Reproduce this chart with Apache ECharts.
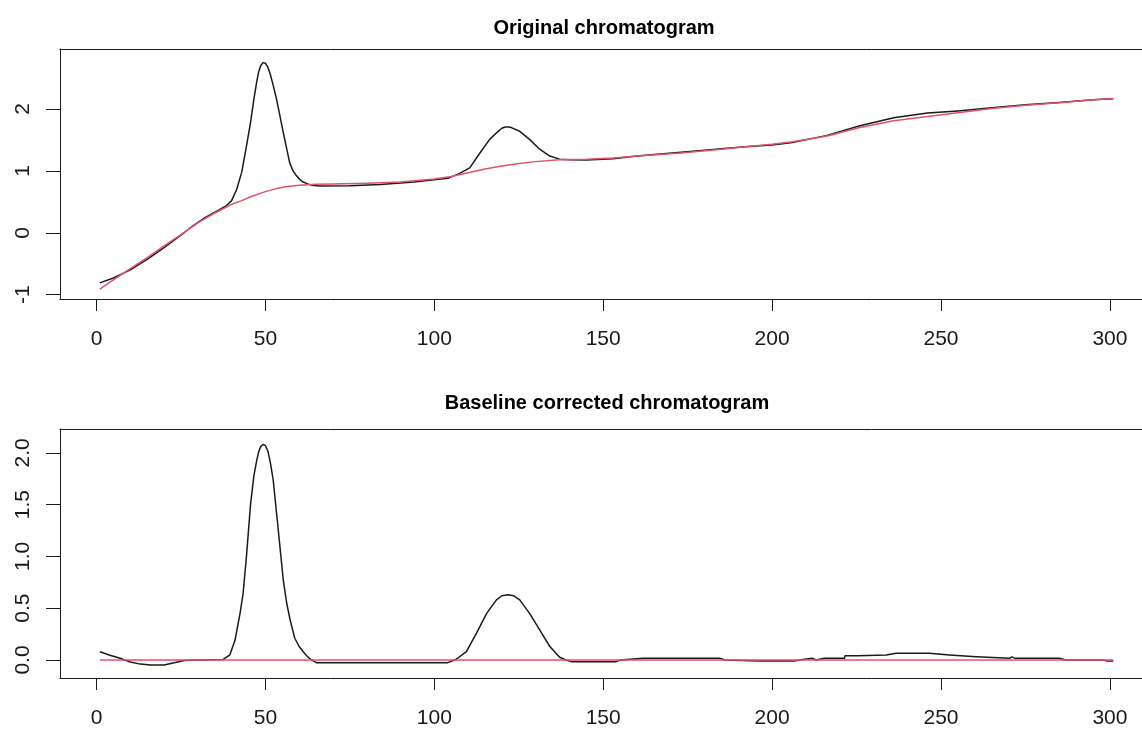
<!DOCTYPE html>
<html>
<head>
<meta charset="utf-8">
<script src="https://cdn.jsdelivr.net/npm/echarts@6/dist/echarts.min.js"></script>
<style>
html,body{margin:0;padding:0;background:#fff;}
#chart{width:1142px;height:729px;}
</style>
</head>
<body>
<div id="chart"></div>
<script>
// ---- data ----
const titles = ['Original chromatogram', 'Baseline corrected chromatogram'];
const xTicks = [0, 50, 100, 150, 200, 250, 300];
const yTicksTop = [-1, 0, 1, 2];
const yTicksBottom = [0, 0.5, 1, 1.5, 2];

// original chromatogram (black, top panel) [time, intensity]
const originalSignal = [
  [1,-0.81],[5,-0.73],[10,-0.60],[15,-0.43],[20,-0.24],[25,-0.04],[28,0.09],[32,0.24],
  [36,0.36],[38.5,0.44],[40,0.52],[41.5,0.70],[43,0.98],[44.4,1.40],[45.6,1.78],
  [46.6,2.16],[47.4,2.43],[48.0,2.60],[48.6,2.70],[49.3,2.75],[50.0,2.74],[50.7,2.68],
  [51.4,2.57],[52.0,2.45],[53.3,2.16],[55.3,1.62],[57.2,1.13],[58.2,1.00],[59.2,0.92],
  [60.2,0.86],[61.2,0.82],[62.5,0.79],[63.7,0.77],[66,0.755],[75,0.76],[84,0.78],
  [94,0.82],[104,0.88],[107.5,0.96],[110.5,1.05],[113.5,1.29],[116.4,1.51],[118.9,1.64],
  [120,1.69],[121,1.71],[122,1.71],[122.8,1.70],[125.3,1.64],[128.2,1.51],[131.2,1.35],
  [134.2,1.24],[137.1,1.19],[140,1.18],[145,1.175],[153,1.195],[160,1.24],[173,1.30],
  [185,1.36],[192,1.39],[200,1.42],[206,1.46],[216,1.57],[226,1.73],[236,1.86],
  [246,1.935],[255,1.97],[265,2.02],[275,2.07],[285,2.105],[295,2.15],[301,2.165]
];

// fitted baseline (red, top panel)
const baselineSignal = [
  [1,-0.91],[5,-0.76],[10,-0.58],[15,-0.40],[20,-0.21],[25,-0.03],[30,0.16],[35,0.32],
  [40,0.46],[43,0.52],[46,0.59],[50,0.665],[53,0.71],[56,0.745],[60,0.77],[65,0.785],
  [70,0.79],[80,0.80],[90,0.82],[100,0.87],[105,0.91],[110,0.97],[115,1.03],[120,1.08],
  [125,1.12],[130,1.15],[137,1.18],[145,1.19],[153,1.21],[160,1.24],[173,1.29],
  [185,1.35],[192,1.39],[200,1.43],[206,1.47],[216,1.56],[226,1.70],[236,1.81],
  [246,1.88],[255,1.94],[265,2.01],[275,2.06],[285,2.10],[295,2.15],[301,2.17]
];

// baseline corrected chromatogram (black, bottom panel)
const correctedSignal = [
  [1,0.08],[4,0.045],[7,0.016],[10,-0.02],[13,-0.04],[16,-0.048],[20,-0.048],[23,-0.026],
  [26,-0.005],[30,0],[37.5,0.005],[39.5,0.05],[41,0.19],[42.5,0.45],[43.4,0.64],[44.4,1.0],
  [45.6,1.5],[46.6,1.78],[47.4,1.92],[48.0,2.01],[48.6,2.06],[49.3,2.08],[50.0,2.07],
  [50.8,2.01],[51.5,1.90],[52.3,1.74],[53.8,1.26],[55.3,0.77],[56.3,0.55],[57.3,0.39],
  [58.7,0.21],[60,0.13],[61.2,0.08],[62.5,0.03],[63.7,0],[65.1,-0.026],[104,-0.026],
  [106.5,0.007],[109.5,0.08],[112.5,0.26],[115.5,0.45],[118.4,0.58],[120,0.62],[121.8,0.63],
  [123.5,0.62],[125.3,0.58],[128.2,0.45],[131.2,0.29],[134.2,0.13],[137.1,0.026],[139,0],
  [140.6,-0.016],[153.9,-0.016],[155,0],[161.8,0.016],[184.5,0.016],[186,0],
  [196.5,-0.01],[206.6,-0.01],[208,0],[212,0.016],[213,0],[215.5,0.016],[221.4,0.016],
  [221.6,0.04],[225.4,0.04],[225.6,0.048],[233.8,0.048],[236.7,0.064],[246.6,0.064],
  [246.8,0.048],[252.5,0.048],[252.7,0.032],[260.4,0.032],[260.6,0.016],[270.3,0.016],
  [271,0.03],[272,0.016],[285,0.016],[287,0],[298,0],[299.3,-0.01],[301,-0.01]
];

// zero line (red, bottom panel)
const zeroLine = [[1,0],[301,0]];

// ---- chart ----
const FONT = '"Liberation Sans", Arial, sans-serif';
const INK = '#1a1a1a';
const RED = '#DF536B';
const X_MIN = -10.8, X_MAX = 309.5;

function xAxisDef(gridIndex) {
  return {
    type: 'value', gridIndex, min: X_MIN, max: X_MAX, position: 'bottom',
    splitLine: {show: false},
    axisLine: {show: true, onZero: false, lineStyle: {color: INK, width: 1}},
    axisTick: {show: true, customValues: xTicks, length: 12, inside: false, lineStyle: {color: INK, width: 1}},
    axisLabel: {customValues: xTicks, fontSize: 21, color: INK, fontFamily: FONT, margin: 30}
  };
}
function xTopFrame(gridIndex) {
  return {
    type: 'value', gridIndex, min: X_MIN, max: X_MAX, position: 'top',
    splitLine: {show: false},
    axisLine: {show: true, onZero: false, lineStyle: {color: INK, width: 1}},
    axisTick: {show: false}, axisLabel: {show: false}
  };
}
function yAxisDef(gridIndex, min, max, ticks, digits) {
  return {
    type: 'value', gridIndex, min, max,
    splitLine: {show: false},
    axisLine: {show: true, onZero: false, lineStyle: {color: INK, width: 1}},
    axisTick: {show: true, customValues: ticks, length: 14, lineStyle: {color: INK, width: 1}},
    axisLabel: {customValues: ticks, rotate: 90, fontSize: 21, color: INK, fontFamily: FONT, margin: 26,
      formatter: v => digits ? Number(v).toFixed(digits) : String(Math.round(v))}
  };
}
function lineSeries(data, color, xi, yi) {
  return {
    type: 'line', data, xAxisIndex: xi, yAxisIndex: yi,
    showSymbol: false, symbol: 'none', smooth: false,
    lineStyle: {color, width: 1.5, join: 'round'}, itemStyle: {color},
    emphasis: {disabled: true}, silent: true
  };
}

const chart = echarts.init(document.getElementById('chart'), null, {renderer: 'canvas'});
chart.setOption({
  animation: false,
  backgroundColor: '#ffffff',
  title: [
    {text: titles[0], left: 599, top: 13, textAlign: 'center',
     textStyle: {fontSize: 20, fontWeight: 'bold', color: '#000', fontFamily: FONT}},
    {text: titles[1], left: 602, top: 388, textAlign: 'center',
     textStyle: {fontSize: 20, fontWeight: 'bold', color: '#000', fontFamily: FONT}}
  ],
  grid: [
    {left: 60, top: 49, right: 0, height: 250, show: false},
    {left: 60, top: 429, right: 0, height: 249, show: false}
  ],
  xAxis: [xAxisDef(0), xAxisDef(1), xTopFrame(0), xTopFrame(1)],
  yAxis: [yAxisDef(0, -1.07, 2.97, yTicksTop, 0), yAxisDef(1, -0.174, 2.23, yTicksBottom, 1)],
  series: [
    lineSeries(originalSignal, INK, 0, 0),
    lineSeries(baselineSignal, RED, 0, 0),
    lineSeries(correctedSignal, INK, 1, 1),
    lineSeries(zeroLine, RED, 1, 1)
  ]
});
</script>
</body>
</html>
